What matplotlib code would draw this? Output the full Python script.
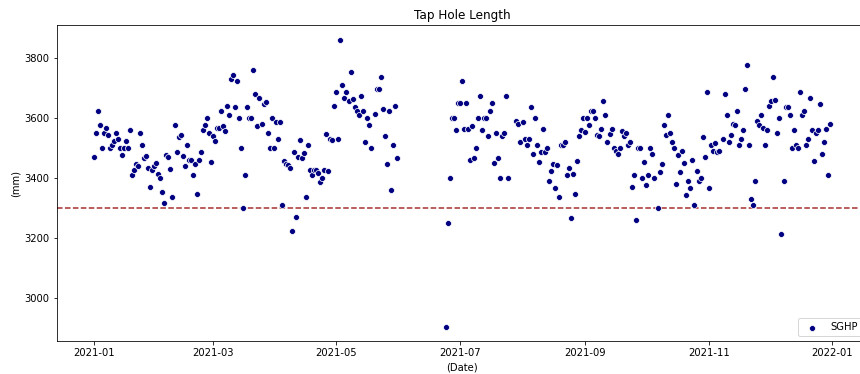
import numpy as np
import pandas as pd
import matplotlib
matplotlib.use("Agg")
import matplotlib.pyplot as plt
import matplotlib.dates as mdates

# --- data: days since 2021-01-01 and tap hole length (mm) ---
start_date = "2021-01-01"
day_offset = [
    0, 1, 2, 3, 4, 5, 6, 7, 8, 9, 10, 11, 12, 13, 14, 15, 16, 17, 18, 19,
    20, 21, 22, 23, 24, 25, 26, 27, 28, 29, 30, 31, 32, 33, 34, 35, 36, 37, 38, 39,
    40, 41, 42, 43, 44, 45, 46, 47, 48, 49, 50, 51, 52, 53, 54, 55, 56, 57, 58, 59,
    60, 61, 62, 63, 64, 65, 66, 67, 68, 69, 70, 71, 72, 73, 74, 75, 76, 77, 78, 79,
    80, 81, 82, 83, 84, 85, 86, 87, 88, 89, 90, 91, 92, 93, 94, 95, 96, 97, 98, 99,
    100, 101, 102, 103, 104, 105, 106, 107, 108, 109, 110, 111, 112, 113, 114, 115, 116, 117, 118, 119,
    120, 121, 122, 123, 124, 125, 126, 127, 128, 129, 130, 131, 132, 133, 134, 135, 136, 137, 139,
    140, 141, 142, 143, 144, 145, 146, 147, 148, 149, 150,
    174, 175, 176, 177, 178, 179,
    180, 181, 182, 183, 184, 185, 186, 187, 188, 189, 190, 191, 192, 193, 194, 195, 196, 197, 198, 199,
    200, 201, 202, 203, 204, 205, 209, 210, 211, 212, 213, 214, 215, 216, 217, 218, 219,
    220, 221, 222, 223, 224, 225, 226, 227, 228, 229, 230, 231, 232, 233, 234, 235, 236, 237, 238, 239,
    240, 241, 242, 243, 244, 245, 246, 247, 248, 249, 250, 251, 252, 253, 254, 255, 256, 257, 258, 259,
    260, 261, 262, 263, 264, 265, 266, 267, 268, 269, 270, 271, 272, 273, 274, 275, 276, 277, 279,
    280, 281, 282, 283, 284, 285, 286, 287, 288, 289, 290, 291, 292, 293, 294, 295, 296, 297, 298, 299,
    300, 301, 302, 303, 304, 305, 306, 307, 308, 309, 311, 312, 313, 314, 315, 316, 317, 318, 319,
    320, 321, 322, 323, 324, 325, 326, 327, 328, 329, 330, 331, 332, 333, 334, 335, 336, 337, 338, 339,
    340, 341, 342, 343, 344, 345, 346, 347, 348, 349, 350, 351, 352, 353, 354, 355, 356, 357, 358, 359,
    360, 361, 362, 363, 364,
]
length_mm = [
    3472, 3549, 3623, 3578, 3500, 3549, 3568, 3544, 3500, 3510, 3523, 3549, 3532, 3500, 3477, 3500, 3523, 3500, 3561, 3410,
    3428, 3446, 3439, 3549, 3510, 3468, 3474, 3433, 3371, 3426, 3439, 3449, 3415, 3401, 3355, 3316, 3477, 3471, 3429, 3336,
    3578, 3488, 3536, 3544, 3474, 3439, 3512, 3461, 3461, 3410, 3448, 3346, 3461, 3488, 3561, 3578, 3601, 3549, 3454, 3539,
    3523, 3566, 3566, 3623, 3574, 3558, 3642, 3610, 3732, 3743, 3636, 3723, 3600, 3500, 3301, 3410, 3636, 3600, 3600, 3762,
    3681, 3574, 3666, 3581, 3648, 3654, 3549, 3500, 3600, 3500, 3588, 3529, 3588, 3310, 3456, 3447, 3444, 3432, 3222, 3488,
    3271, 3471, 3526, 3468, 3483, 3336, 3510, 3426, 3409, 3426, 3426, 3417, 3387, 3401, 3426, 3548, 3423, 3530, 3526, 3642,
    3688, 3529, 3862, 3711, 3668, 3688, 3658, 3756, 3664, 3639, 3623, 3610, 3674, 3623, 3522, 3600, 3578, 3500, 3613,
    3698, 3698, 3739, 3632, 3539, 3446, 3623, 3361, 3509, 3642, 3468,
    2902, 3251, 3400, 3600, 3600, 3559,
    3650, 3650, 3723, 3564, 3650, 3564, 3461, 3574, 3468, 3500, 3600, 3674, 3559, 3600, 3600, 3539, 3623, 3650, 3449, 3549,
    3468, 3400, 3539, 3549, 3674, 3400, 3590, 3581, 3522, 3588, 3532, 3510, 3529, 3636, 3481, 3600, 3510,
    3454, 3488, 3564, 3488, 3500, 3390, 3422, 3446, 3368, 3442, 3336, 3509, 3509, 3522, 3409, 3432, 3268, 3412, 3346, 3456,
    3541, 3561, 3600, 3554, 3600, 3577, 3623, 3623, 3600, 3544, 3539, 3564, 3656, 3610, 3520, 3548, 3564, 3500, 3490, 3481,
    3500, 3556, 3539, 3549, 3509, 3520, 3371, 3410, 3261, 3500, 3500, 3400, 3454, 3378, 3410, 3500, 3481, 3400, 3301,
    3419, 3446, 3578, 3544, 3610, 3549, 3520, 3500, 3380, 3478, 3419, 3490, 3449, 3342, 3390, 3368, 3461, 3311, 3422, 3390,
    3400, 3536, 3471, 3688, 3368, 3510, 3491, 3516, 3487, 3490, 3529, 3681, 3610, 3520, 3544, 3581, 3578, 3623, 3510,
    3532, 3559, 3697, 3778, 3510, 3329, 3310, 3390, 3590, 3578, 3610, 3568, 3509, 3559, 3642, 3658, 3737, 3661, 3549, 3600,
    3213, 3390, 3639, 3636, 3610, 3500, 3561, 3509, 3500, 3688, 3610, 3623, 3509, 3532, 3666, 3559, 3456, 3549, 3559, 3649,
    3481, 3520, 3564, 3410, 3581,
]
series_name = "SGHP"
limit_mm = 3300

dates = pd.Timestamp(start_date) + pd.to_timedelta(day_offset, unit="D")

fig = plt.figure(figsize=(860 / 72, 374 / 72), dpi=72)
# axes runs a little past the right edge, as in the (cropped) original
ax = fig.add_axes([0.066, 0.087, 0.942, 0.845])

ax.scatter(dates, length_mm, s=36, color="navy", edgecolors="white",
           linewidths=0.75, label=series_name, zorder=3)
ax.axhline(limit_mm, color="brown", linestyle="--", linewidth=1.5)

ax.xaxis.set_major_locator(mdates.MonthLocator(bymonth=[1, 3, 5, 7, 9, 11]))
ax.xaxis.set_major_formatter(mdates.DateFormatter("%Y-%m"))
ax.set_yticks([3000, 3200, 3400, 3600, 3800])

ax.set_title("Tap Hole Length", fontsize=12)
ax.set_xlabel("(Date)", fontsize=10)
ax.set_ylabel("(mm)", fontsize=10)
ax.tick_params(labelsize=10)
ax.legend(loc="lower right", fontsize=10)

fig.savefig("out.png", dpi=72)
